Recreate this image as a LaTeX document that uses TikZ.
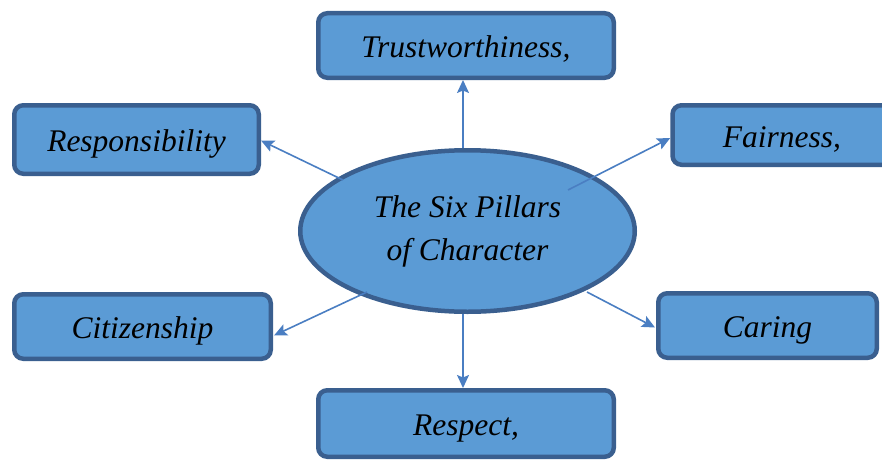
\documentclass[tikz,border=0pt]{standalone}
\usepackage{fontspec}
\setmainfont{Liberation Serif}
\usetikzlibrary{arrows.meta,shapes.geometric}
\definecolor{boxfill}{HTML}{5B9BD5}
\definecolor{boxdraw}{HTML}{3A5F8F}
\definecolor{arrowc}{HTML}{4A7EC2}
\begin{document}
\begin{tikzpicture}[x=1pt,y=-1pt,
  txt/.style={font=\fontsize{31.5}{43}\selectfont\itshape},
  pillar/.style={draw=boxdraw, fill=boxfill, line width=4.5pt, rounded corners=9pt,
    inner sep=0pt, rectangle, txt, text height=24pt, text depth=0pt},
  hub/.style={draw=boxdraw, fill=boxfill, line width=4.5pt, ellipse, inner sep=0pt},
  link/.style={draw=arrowc, line width=1.6pt, -{Stealth[length=13pt,width=12pt,inset=2.5pt]}}]
\clip (0,0) rectangle (882,460);
\useasboundingbox (0,0) rectangle (882,460);
\node[pillar, minimum width=295.5pt, minimum height=64.5pt] (tru) at (466,45.5) {Trustworthiness,};
\node[pillar, minimum width=244.5pt, minimum height=68.5pt] (rsp) at (136.5,139.5) {Responsibility};
\node[pillar, minimum width=219pt, minimum height=59.5pt] (fai) at (782,135) {Fairness,};
\node[pillar, minimum width=256.5pt, minimum height=64.5pt] (cit) at (142.5,326.5) {Citizenship};
\node[pillar, minimum width=218.5pt, minimum height=64.5pt] (car) at (767.5,325.5) {Caring};
\node[pillar, minimum width=295.5pt, minimum height=66.5pt] (res) at (466,423.5) {Respect,};
\node[hub, minimum width=334.5pt, minimum height=161.5pt] (hub) at (467.5,231) {};
\node[txt, align=center] (hubtxt) at (467.5,231) {The Six Pillars\\of Character};
\coordinate (s1) at (463,148);
\coordinate (s2) at (568,190);
\coordinate (s3) at (343,180);
\coordinate (s4) at (367,292);
\coordinate (s5) at (587,292);
\coordinate (s6) at (463,314);
\draw[link] (s1) -- (s1 |- tru.south);
\draw[link] (s2) -- ([yshift=-3pt]fai.west);
\draw[link] (s3) -- ([yshift=-1pt]rsp.east);
\draw[link] (s4) -- ([yshift=-9pt,xshift=1pt]cit.east);
\draw[link] (s5) -- ([yshift=-2pt,xshift=-1pt]car.west);
\draw[link] (s6) -- (s6 |- res.north);
\end{tikzpicture}
\end{document}
